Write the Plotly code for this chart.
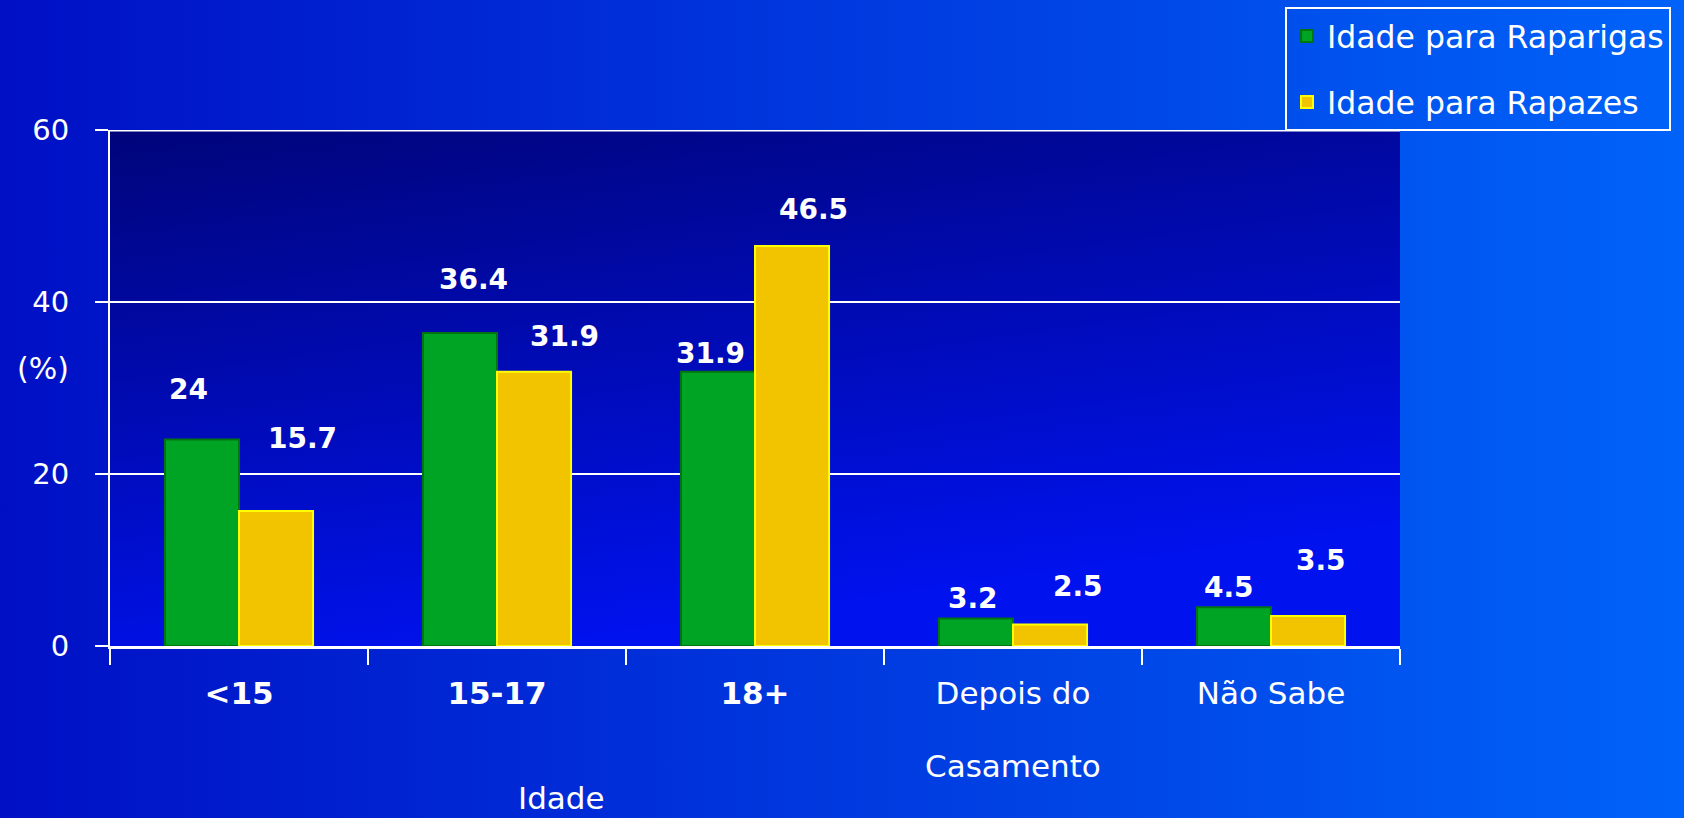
import base64
import plotly.graph_objects as go

categories = ["<15", "15-17", "18+", "Depois do Casamento", "Não Sabe"]
tick_labels = ["<b><15</b>", "<b>15-17</b>", "<b>18+</b>", "Depois do", "Não Sabe"]
raparigas = [24, 36.4, 31.9, 3.2, 4.5]
rapazes = [15.7, 31.9, 46.5, 2.5, 3.5]
series_names = ["Idade para Raparigas", "Idade para Rapazes"]
y_ticks = [0, 20, 40, 60]

# label placement tweaks (pixels) to mimic the hand-placed labels
green_dx = [-14, 13, -8, -3, -5]
green_dy = [50, 53, 18, 20, 20]
yellow_dx = [26, 30, 21, 28, 13]
yellow_dy = [72, 35, 37, 38, 55]

FONT = "DejaVu Sans"
W, H = 1684, 818
ML, MR, MT, MB = 110, 284, 130, 172
PW = W - ML - MR
PH = H - MT - MB
EXT = 30


def svg_uri(svg):
    return "data:image/svg+xml;base64," + base64.b64encode(svg.encode()).decode()


paper_svg = (
    '<svg xmlns="http://www.w3.org/2000/svg" width="100" height="100" viewBox="0 0 100 100" preserveAspectRatio="none">'
    '<defs><linearGradient id="g" x1="0" y1="0" x2="1" y2="0">'
    '<stop offset="0" stop-color="#000ec4"/><stop offset="1" stop-color="#0064fa"/>'
    '</linearGradient></defs><rect width="100" height="100" fill="url(#g)"/></svg>'
)
plot_svg = (
    '<svg xmlns="http://www.w3.org/2000/svg" width="100" height="100" viewBox="0 0 100 100" preserveAspectRatio="none">'
    '<defs><linearGradient id="g" x1="0" y1="0" x2="0.35" y2="1">'
    '<stop offset="0" stop-color="#00047a"/><stop offset="1" stop-color="#0012ee"/>'
    '</linearGradient></defs><rect width="100" height="100" fill="url(#g)"/></svg>'
)

fig = go.Figure()
fig.add_trace(go.Bar(
    x=categories, y=raparigas, name=series_names[0],
    marker=dict(color="#00a424", line=dict(color="#007410", width=2)),
    legendgroup="a",
))
fig.add_trace(go.Bar(
    x=categories, y=rapazes, name=series_names[1],
    marker=dict(color="#f2c400", line=dict(color="#ffff00", width=2)),
    legendgroup="b",
))

annotations = []
for i, c in enumerate(categories):
    annotations.append(dict(
        x=c, y=raparigas[i], xref="x", yref="y", text=f"<b>{raparigas[i]:g}</b>",
        showarrow=False, xshift=-37 + green_dx[i], yshift=green_dy[i],
        font=dict(family=FONT, size=28, color="white"),
    ))
    annotations.append(dict(
        x=c, y=rapazes[i], xref="x", yref="y", text=f"<b>{rapazes[i]:g}</b>",
        showarrow=False, xshift=37 + yellow_dx[i], yshift=yellow_dy[i],
        font=dict(family=FONT, size=28, color="white"),
    ))

annotations.append(dict(
    x=categories[3], y=-(766 - MT - PH) / PH, xref="x", yref="paper", text="Casamento",
    showarrow=False, yanchor="middle", font=dict(family=FONT, size=31, color="white"),
))
annotations.append(dict(
    x=(561 - ML) / PW, y=-(798 - MT - PH) / PH, xref="paper", yref="paper", text="Idade",
    showarrow=False, yanchor="middle", font=dict(family=FONT, size=31, color="white"),
))
annotations.append(dict(
    x=(43 - ML) / PW, y=(MT + PH - 368) / PH, xref="paper", yref="paper", text="(%)",
    showarrow=False, xanchor="center", yanchor="middle",
    font=dict(family=FONT, size=30, color="white"),
))

fig.update_layout(
    width=W, height=H,
    margin=dict(l=ML, r=MR, t=MT, b=MB, pad=0, autoexpand=False),
    paper_bgcolor="#0038e0",
    plot_bgcolor="rgba(0,0,0,0)",
    font=dict(family=FONT, color="white"),
    barmode="group", bargap=0.426, bargroupgap=0,
    showlegend=True,
    legend=dict(
        x=(1285 - ML) / PW, y=(MT + PH - 7) / PH, xanchor="left", yanchor="top",
        bgcolor="rgba(0,0,0,0)", bordercolor="white", borderwidth=2,
        font=dict(family=FONT, size=31.5, color="white"),
        traceorder="grouped", tracegroupgap=22, itemwidth=30,
    ),
    images=[
        dict(source=svg_uri(paper_svg), xref="paper", yref="paper",
             x=-(ML + EXT) / PW, y=(PH + MT + EXT) / PH,
             sizex=(W + 2 * EXT) / PW, sizey=(H + 2 * EXT) / PH,
             xanchor="left", yanchor="top", sizing="stretch", layer="below"),
        dict(source=svg_uri(plot_svg), xref="paper", yref="paper",
             x=0, y=1, sizex=1, sizey=1,
             xanchor="left", yanchor="top", sizing="stretch", layer="below"),
    ],
    shapes=[
        dict(type="line", xref="paper", yref="y", x0=0, x1=1,
             y0=y_ticks[-1], y1=y_ticks[-1], line=dict(color="white", width=3),
             layer="below"),
    ],
    annotations=annotations,
    xaxis=dict(
        tickmode="array", tickvals=categories, ticktext=tick_labels,
        tickson="boundaries", ticks="outside", ticklen=16, tickwidth=2, tickcolor="white",
        showline=True, linecolor="white", linewidth=3,
        showgrid=False, ticklabelstandoff=18,
        tickfont=dict(family=FONT, size=31, color="white"),
    ),
    yaxis=dict(
        range=[0, 60], tickmode="array", tickvals=y_ticks,
        ticks="outside", ticklen=13, tickwidth=2, tickcolor="white",
        showline=True, linecolor="white", linewidth=2,
        showgrid=True, gridcolor="white", gridwidth=2, zeroline=False,
        ticklabelstandoff=20,
        tickfont=dict(family=FONT, size=29, color="white"),
    ),
)

fig.write_html(
    "out.html",
    config={"displayModeBar": False},
    post_script="document.body.style.margin='0';document.body.style.padding='0';",
)
